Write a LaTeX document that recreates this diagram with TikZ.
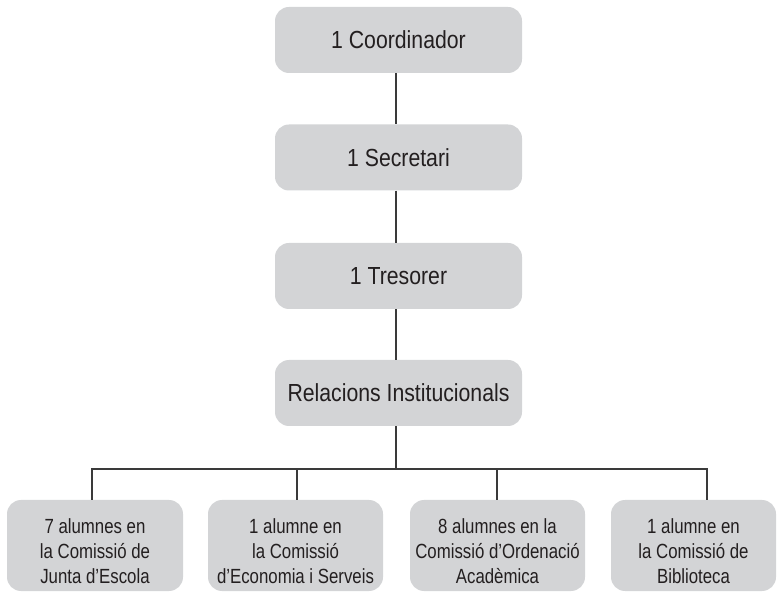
\documentclass[tikz,border=0pt]{standalone}
\usepackage{fontspec}
\setmainfont{Liberation Sans}[FakeStretch=0.86]
\newfontfamily\botfont{Liberation Sans}[FakeStretch=0.82,Ligatures=TeX]
\definecolor{boxfill}{HTML}{D3D4D6}
\definecolor{linec}{HTML}{3A3A3A}
\definecolor{txt}{HTML}{231F20}
\begin{document}
\begin{tikzpicture}[x=1pt,y=-1pt,
  topbox/.style={rounded corners=14pt, fill=boxfill, draw=none, minimum width=247pt, minimum height=66pt, inner sep=0pt, text=txt, font=\fontsize{24.7}{29}\selectfont},
  botbox/.style={rounded corners=14pt, fill=boxfill, draw=none, minimum height=91pt, inner sep=0pt},
  bottext/.style={inner sep=0pt, text=txt, align=center, font=\botfont\fontsize{20.5}{25}\selectfont},
  conn/.style={draw=linec, line width=1.5pt}]
\useasboundingbox (0,0) rectangle (777,593);
\node[topbox] (coord) at (398.5,40) {1 Coordinador};
\node[topbox] (secr) at (398.5,157.5) {1 Secretari};
\node[topbox] (tres) at (398.5,276) {1 Tresorer};
\node[topbox] (rel) at (398.5,393) {Relacions Institucionals};
\node[botbox, minimum width=176pt] (b1) at (95,545.5) {};
\node[botbox, minimum width=175pt] (b2) at (295.5,545.5) {};
\node[botbox, minimum width=175pt] (b3) at (497.5,545.5) {};
\node[botbox, minimum width=165pt] (b4) at (693.5,545.5) {};
\node[bottext] (t1) at ([yshift=-6pt]b1.center) {7 alumnes en\\la Comissió de\\Junta d’Escola};
\node[bottext] (t2) at ([yshift=-6pt]b2.center) {1 alumne en\\la Comissió\\d’Economia i Serveis};
\node[bottext] (t3) at ([yshift=-6pt]b3.center) {8 alumnes en la\\Comissió d’Ordenació\\Acadèmica};
\node[bottext] (t4) at ([yshift=-6pt]b4.center) {1 alumne en\\la Comissió de\\Biblioteca};
\coordinate (hb) at (396,469);
\coordinate (d1) at ([xshift=-3pt]b1.north);
\coordinate (d2) at ([xshift=1.5pt]b2.north);
\coordinate (d3) at ([xshift=-0.5pt]b3.north);
\coordinate (d4) at ([xshift=13.5pt]b4.north);
\draw[conn] ([xshift=-2.5pt]coord.south) -- ([xshift=-2.5pt]secr.north);
\draw[conn] ([xshift=-2.5pt]secr.south) -- ([xshift=-2.5pt]tres.north);
\draw[conn] ([xshift=-2.5pt]tres.south) -- ([xshift=-2.5pt]rel.north);
\draw[conn] ([xshift=-2.5pt]rel.south) -- (hb);
\draw[conn] (d1) -- (d1 |- hb) -- (d4 |- hb) -- (d4);
\draw[conn] (d2) -- (d2 |- hb);
\draw[conn] (d3) -- (d3 |- hb);
\end{tikzpicture}
\end{document}
